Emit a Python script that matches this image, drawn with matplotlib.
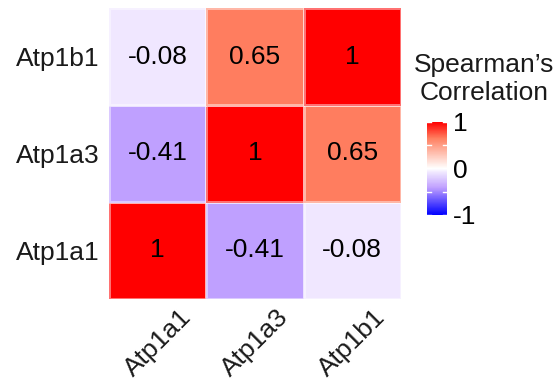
import numpy as np
import matplotlib
matplotlib.use('Agg')
import matplotlib.pyplot as plt
from matplotlib.colors import LinearSegmentedColormap, Normalize

plt.rcParams['font.family'] = ['Liberation Sans', 'DejaVu Sans']
plt.rcParams['axes.unicode_minus'] = False

GENES = ['Atp1a1', 'Atp1a3', 'Atp1b1']
# rows/cols follow GENES order; row 0 is drawn at the bottom
CORR = np.array([
    [1.00, -0.41, -0.08],
    [-0.41, 1.00, 0.65],
    [-0.08, 0.65, 1.00],
])
CBAR_BREAKS = [-1, -0.5, 0, 0.5, 1]
CBAR_LABELS = [-1, 0, 1]

# blue-white-red diverging scale, roughly following a Lab-space gradient
cmap = LinearSegmentedColormap.from_list('bwr_lab', [
    (0.0, '#0000FF'),
    (0.295, '#C0A0FF'),
    (0.46, '#F0E8FF'),
    (0.5, '#FFFFFF'),
    (0.825, '#FF7F60'),
    (1.0, '#FF0000'),
])
norm = Normalize(-1, 1)

fig = plt.figure(figsize=(5.58, 3.85), dpi=100)
ax = fig.add_axes([0.1953, 0.2234, 0.5233, 0.7558])

n = len(GENES)
mesh = ax.pcolormesh(np.arange(n + 1), np.arange(n + 1), CORR, cmap=cmap, norm=norm,
                     edgecolor=(1, 1, 1, 0.45), linewidth=0.8)
for i in range(n):
    for j in range(n):
        ax.text(j + 0.5, i + 0.5, f"{CORR[i, j]:g}", ha='center', va='center',
                fontsize=19, color='black')

ax.set_xlim(0, n)
ax.set_ylim(0, n)
ax.set_xticks(np.arange(n) + 0.5)
ax.set_yticks(np.arange(n) + 0.5)
ax.set_xticklabels(GENES, rotation=45, ha='center', va='top', fontsize=19, color='#1a1a1a')
ax.set_yticklabels(GENES, fontsize=19, color='#1a1a1a')
ax.tick_params(length=0, pad=7)
ax.tick_params(axis='x', pad=4)
for s in ax.spines.values():
    s.set_visible(False)

cax = fig.add_axes([0.7652, 0.4416, 0.0358, 0.2416])
cb = fig.colorbar(mesh, cax=cax)
cb.outline.set_visible(False)
cb.set_ticks(CBAR_LABELS)
cb.ax.tick_params(length=0, labelsize=19, pad=4)
for b in CBAR_BREAKS:
    cax.plot([0, 0.2], [b, b], color='white', lw=1, transform=cax.get_yaxis_transform(), clip_on=False)
    cax.plot([0.8, 1], [b, b], color='white', lw=1, transform=cax.get_yaxis_transform(), clip_on=False)

fig.text(0.868, 0.795, "Spearman\u2019s\nCorrelation", ha='center', va='center',
         fontsize=19, color='#1a1a1a', linespacing=1.2)

fig.savefig('out.png', dpi=100)
